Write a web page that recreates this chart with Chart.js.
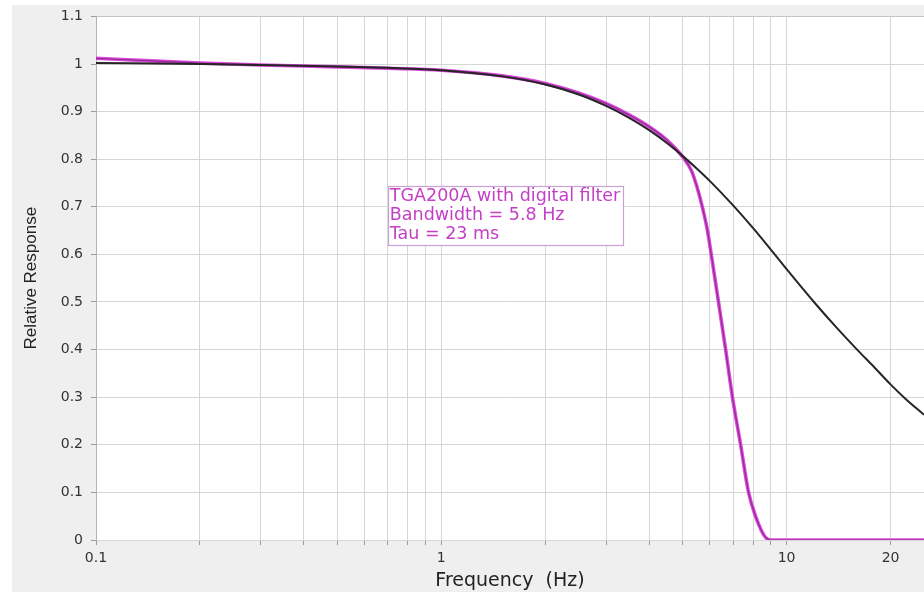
<!DOCTYPE html>
<html>
<head>
<meta charset="utf-8">
<script src="https://cdn.jsdelivr.net/npm/chart.js@4/dist/chart.umd.min.js"></script>
<style>
  html, body { margin: 0; padding: 0; background: #ffffff; }
  #wrap { width: 924px; height: 592px; position: relative; }
</style>
</head>
<body>
<div id="wrap"><canvas id="c" width="924" height="592"></canvas></div>
<script>
// ---- data ----
const freqBlack = [0.1, 0.2, 0.3, 0.5, 0.7, 1, 1.5, 2, 2.5, 3, 3.5, 4, 4.5, 5, 5.5, 6, 7, 8, 9, 10, 12, 14, 16, 18, 20, 22, 25];
const respBlack = [1.002, 1.0, 0.998, 0.995, 0.992, 0.987, 0.974, 0.957, 0.936, 0.912, 0.887, 0.861, 0.834, 0.807, 0.78, 0.754, 0.703, 0.655, 0.61, 0.569, 0.50, 0.445, 0.40, 0.362, 0.327, 0.298, 0.263];

const freqFilter = [0.1, 0.15, 0.2, 0.3, 0.5, 0.7, 1, 1.5, 2, 2.5, 3, 3.5, 4, 4.5, 5, 5.3, 5.5, 5.7, 5.9, 6.05, 6.35, 6.66, 6.97, 7.36, 7.76, 8.13, 8.45, 8.7, 9.0, 12, 25];
const respFilter = [1.012, 1.006, 1.002, 0.998, 0.994, 0.991, 0.987, 0.975, 0.959, 0.939, 0.917, 0.893, 0.868, 0.84, 0.805, 0.776, 0.742, 0.70, 0.65, 0.60, 0.50, 0.40, 0.30, 0.20, 0.10, 0.05, 0.02, 0.005, 0, 0, 0];

const xGridValues = [0.1, 0.2, 0.3, 0.4, 0.5, 0.6, 0.7, 0.8, 0.9, 1, 2, 3, 4, 5, 6, 7, 8, 9, 10, 20];
const xLabelValues = [0.1, 1, 10, 20];
const yTickValues = [0, 0.1, 0.2, 0.3, 0.4, 0.5, 0.6, 0.7, 0.8, 0.9, 1, 1.1];

const xTitle = 'Frequency  (Hz)';
const yTitle = 'Relative Response';
const annotationLines = ['TGA200A with digital filter', 'Bandwidth = 5.8 Hz', 'Tau = 23 ms'];
const annotationAnchor = { x: 0.7, y: 0.743 };

const toPoints = (xs, ys) => xs.map((x, i) => ({ x: x, y: ys[i] }));

const bgPlugin = {
  id: 'bg',
  beforeDraw(chart) {
    const { ctx, chartArea: a } = chart;
    ctx.save();
    ctx.fillStyle = '#ffffff';
    ctx.fillRect(0, 0, chart.width, chart.height);
    ctx.fillStyle = '#efefef';
    ctx.fillRect(12, 5, chart.width - 12, chart.height - 5);
    ctx.fillStyle = '#ffffff';
    ctx.fillRect(a.left, a.top, a.right - a.left, a.bottom - a.top);
    ctx.restore();
  }
};

const annotPlugin = {
  id: 'annot',
  afterDatasetsDraw(chart) {
    const { ctx } = chart;
    const x0 = chart.scales.x.getPixelForValue(annotationAnchor.x);
    const y0 = chart.scales.y.getPixelForValue(annotationAnchor.y);
    ctx.save();
    ctx.font = '17.5px "DejaVu Sans"';
    let w = 0;
    annotationLines.forEach(t => { w = Math.max(w, ctx.measureText(t).width); });
    const lh = 19;
    const bw = Math.round(w + 4);
    const bh = lh * annotationLines.length + 2;
    ctx.fillStyle = '#ffffff';
    ctx.fillRect(x0, y0, bw, bh);
    ctx.strokeStyle = '#c9a2d4';
    ctx.lineWidth = 1.2;
    ctx.strokeRect(Math.round(x0) + 0.5, Math.round(y0) + 0.5, bw, bh);
    ctx.fillStyle = '#c43ec6';
    ctx.textBaseline = 'middle';
    annotationLines.forEach((t, i) => {
      ctx.fillText(t, x0 + 2, y0 + 10 + i * lh);
    });
    ctx.restore();
  }
};

new Chart(document.getElementById('c'), {
  type: 'line',
  data: {
    datasets: [
      {
        label: 'black',
        data: toPoints(freqBlack, respBlack),
        borderColor: '#262626',
        borderWidth: 2,
        pointRadius: 0,
        cubicInterpolationMode: 'monotone',
        fill: false
      },
      {
        label: 'filter core',
        data: toPoints(freqFilter, respFilter),
        borderColor: '#8e2c90',
        borderWidth: 1.2,
        pointRadius: 0,
        cubicInterpolationMode: 'monotone',
        fill: false
      },
      {
        label: 'filter',
        data: toPoints(freqFilter, respFilter),
        borderColor: '#dd48dd',
        borderWidth: 3.6,
        pointRadius: 0,
        cubicInterpolationMode: 'monotone',
        fill: false
      }
    ]
  },
  options: {
    responsive: false,
    animation: false,
    events: [],
    layout: { padding: { left: 12, top: 13, right: 0, bottom: 0 } },
    plugins: { legend: { display: false }, tooltip: { enabled: false } },
    scales: {
      x: {
        type: 'logarithmic',
        min: 0.1,
        max: 25,
        afterBuildTicks: s => { s.ticks = xGridValues.map(v => ({ value: v })); },
        afterFit: s => { s.height = 52; },
        ticks: {
          autoSkip: false,
          maxRotation: 0,
          minRotation: 0,
          padding: 5,
          color: '#333333',
          font: { family: 'DejaVu Sans', size: 14 },
          callback: v => (xLabelValues.includes(v) ? String(v) : '')
        },
        grid: { color: '#d6d6d6', tickLength: 5, tickColor: '#9a9a9a', lineWidth: 1 },
        border: { display: false },
        title: {
          display: true,
          text: xTitle,
          color: '#222222',
          font: { family: 'DejaVu Sans', size: 19 },
          padding: { top: 0, bottom: 0 }
        }
      },
      y: {
        type: 'linear',
        min: 0,
        max: 1.1,
        afterBuildTicks: s => { s.ticks = yTickValues.map(v => ({ value: v })); },
        afterFit: s => { s.width = 84; },
        ticks: {
          padding: 8,
          color: '#333333',
          font: { family: 'DejaVu Sans', size: 14 },
          callback: v => String(Number(v.toFixed(1)))
        },
        grid: {
          color: ctx => (ctx.tick && ctx.tick.value === 1.1 ? '#c4c4c4' : '#d6d6d6'),
          tickLength: 5,
          tickColor: '#9a9a9a',
          lineWidth: 1
        },
        border: { display: true, color: '#b4b4b4' },
        title: {
          display: true,
          text: yTitle,
          color: '#222222',
          font: { family: 'Liberation Sans', size: 17 },
          padding: { top: 9, bottom: 0 }
        }
      }
    }
  },
  plugins: [bgPlugin, annotPlugin]
});
</script>
</body>
</html>
